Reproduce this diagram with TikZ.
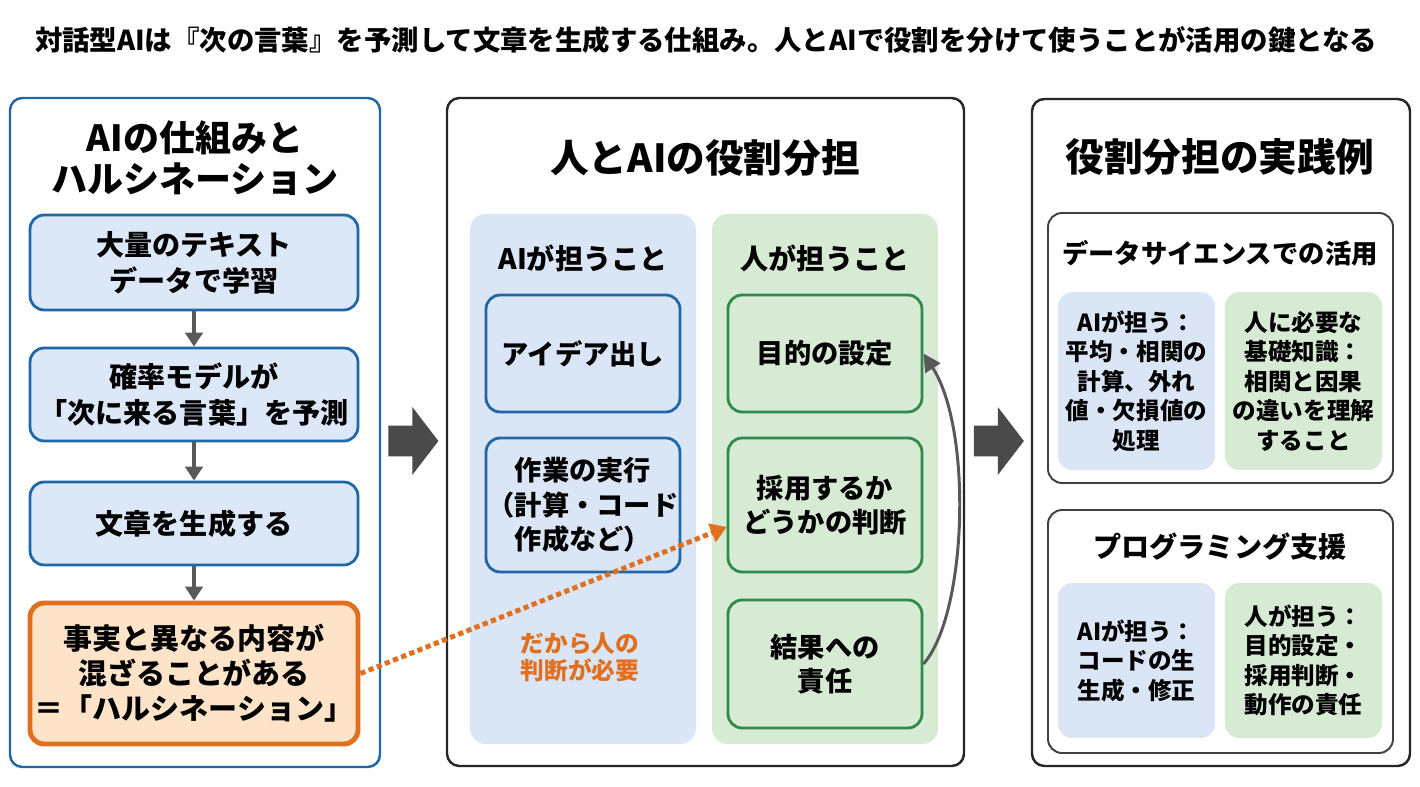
\documentclass[tikz,border=0pt]{standalone}
\usepackage{xcolor}
\usepackage{fontspec}
\setmainfont{Noto Sans CJK JP}
\usepackage{tikz}
\usetikzlibrary{arrows.meta,shapes.arrows}

\definecolor{aiblue}{HTML}{1F67A6}
\definecolor{aifill}{HTML}{DCE8F7}
\definecolor{colblue}{HTML}{DAE6F5}
\definecolor{hmgreen}{HTML}{2F8A4C}
\definecolor{colgreen}{HTML}{D7EAD4}
\definecolor{hallu}{HTML}{E07020}
\definecolor{hallufill}{HTML}{FDE3C8}
\definecolor{arrowgray}{HTML}{595959}
\definecolor{bigarrow}{HTML}{4A4A4A}

\newcommand{\fsz}[2]{\fontsize{#1}{#2}\selectfont\bfseries}

\tikzset{
  panel/.style={draw=black!85, line width=1.4pt, rounded corners=7pt, fill=white},
  subpanel/.style={draw=black!75, line width=1.1pt, rounded corners=8pt, fill=white},
  flowbox/.style={draw=aiblue, fill=aifill, line width=1.6pt, rounded corners=8pt,
    minimum width=6.56cm, align=center, inner sep=0pt, font=\fsz{16}{20.5}},
  hallubox/.style={flowbox, draw=hallu, fill=hallufill, line width=2.8pt, font=\fsz{16.5}{20}},
  taskbox/.style={draw=aiblue, fill=colblue, line width=1.6pt, rounded corners=8pt,
    minimum width=3.88cm, align=center, inner sep=0pt, font=\fsz{15.5}{19.5}},
  humanbox/.style={taskbox, draw=hmgreen, fill=colgreen},
  aicard/.style={fill=colblue, rounded corners=8pt, minimum width=3.14cm,
    align=center, inner sep=0pt, font=\fsz{13.4}{16.8}},
  humancard/.style={aicard, fill=colgreen},
  flowarrow/.style={draw=arrowgray, line width=1.8pt, -{Triangle[length=8pt,width=10pt]}},
  bigarr/.style={single arrow, fill=bigarrow, inner sep=0pt, text height=0.6cm, text depth=0pt,
    minimum height=1cm, single arrow head extend=0.37cm, single arrow tip angle=105},
  paneltitle/.style={font=\fsz{22}{24}, align=center}
}

\begin{document}
\begin{tikzpicture}[x=0.02cm, y=-0.02cm]
  \useasboundingbox (0,0) rectangle (1420,787);

  \node[font=\fsz{15.6}{19}] (title) at (706,40)
    {対話型AIは『次の言葉』を予測して文章を生成する仕組み。人とAIで役割を分けて使うことが活用の鍵となる};

  % left panel
  \draw[panel, draw=aiblue] (10,98) rectangle (380,767);
  \node[font=\fsz{20.5}{23}, align=center] (lefttitle) at (195,158) {AIの仕組みと\\ハルシネーション};

  \node[flowbox, minimum height=1.9cm] (learn) at (194,262.5) {大量のテキスト\\データで学習};
  \node[flowbox, minimum height=1.86cm] (predict) at (194,394.5) {確率モデルが\\「次に来る言葉」を予測};
  \node[flowbox, minimum height=1.66cm] (generate) at (194,523.5) {文章を生成する};
  \node[hallubox, minimum height=2.82cm] (hallucinate) at (194,673.5)
    {事実と異なる内容が\\混ざることがある\\＝「ハルシネーション」};

  \draw[flowarrow] (learn) -- (predict);
  \draw[flowarrow] (predict) -- (generate);
  \draw[flowarrow] (generate) -- (hallucinate);

  \node[bigarr] (go1) at (407.5,441) {};

  % middle panel
  \draw[panel] (447,98) rectangle (964,766);
  \node[paneltitle] (midtitle) at (705,158) {人とAIの役割分担};

  \fill[colblue, rounded corners=9pt] (470,214) rectangle (696,744);
  \fill[colgreen, rounded corners=9pt] (712,214) rectangle (938,744);
  \node[font=\fsz{16}{20}] (aihead) at (583,258) {AIが担うこと};
  \node[font=\fsz{16}{20}] (humanhead) at (825,258) {人が担うこと};

  \node[taskbox, minimum height=2.34cm] (idea) at (583,353.5) {アイデア出し};
  \node[taskbox, minimum height=2.68cm] (work) at (583,505) {作業の実行\\（計算・コード\\作成など）};
  \node[font=\fsz{13.5}{15.5}, text=hallu, align=center] (needhuman) at (580,657) {だから人の\\判断が必要};

  \node[humanbox, minimum height=2.34cm] (goal) at (825,353.5) {目的の設定};
  \node[humanbox, minimum height=2.68cm] (adopt) at (825,505) {採用するか\\どうかの判断};
  \node[humanbox, minimum height=2.56cm] (resp) at (825,664) {結果への\\責任};

  \draw[hallu, line width=2.8pt, dash pattern=on 3pt off 2pt,
    -{Triangle[length=9pt,width=11pt]}] (hallucinate.east) -- ([yshift=-0.44cm]adopt.west);
  \draw[arrowgray, line width=1.7pt, -{Triangle[length=10pt,width=10pt]}]
    (resp.east) .. controls (967,615) and (973,430) .. (goal.east);

  \node[bigarr] (go2) at (993,441) {};

  % right panel
  \draw[panel] (1032,99) rectangle (1410,766);
  \node[paneltitle] (righttitle) at (1220,157) {役割分担の実践例};

  \draw[subpanel] (1048,213) rectangle (1393,483);
  \node[font=\fsz{15}{18}] (dstitle) at (1220,253) {データサイエンスでの活用};
  \node[aicard, minimum height=3.56cm] (dsai) at (1136.5,381)
    {AIが担う：\\平均・相関の\\計算、外れ\\値・欠損値の\\処理};
  \node[humancard, minimum height=3.56cm] (dshuman) at (1303.5,381)
    {人に必要な\\基礎知識：\\相関と因果\\の違いを理解\\すること};

  \draw[subpanel] (1048,510) rectangle (1393,753);
  \node[font=\fsz{16}{19}] (progtitle) at (1220,547) {プログラミング支援};
  \node[aicard, minimum height=3.1cm] (progai) at (1136.5,660.5)
    {AIが担う：\\コードの生\\生成・修正};
  \node[humancard, minimum height=3.1cm] (proghuman) at (1303.5,660.5)
    {人が担う：\\目的設定・\\採用判断・\\動作の責任};
\end{tikzpicture}
\end{document}
